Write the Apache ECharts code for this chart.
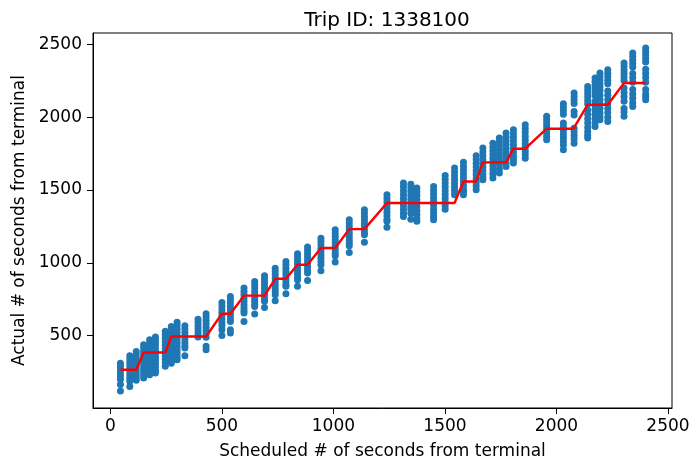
<!DOCTYPE html>
<html>
<head>
<meta charset="utf-8">
<script src="https://cdn.jsdelivr.net/npm/echarts@6/dist/echarts.min.js"></script>
<style>
html,body{margin:0;padding:0;background:#fff;}
#chart{width:690px;height:461px;}
</style>
</head>
<body>
<div id="chart"></div>
<script>
var titleText = "Trip ID: 1338100";
var xName = "Scheduled # of seconds from terminal";
var yName = "Actual # of seconds from terminal";
var xTicks = [0, 500, 1000, 1500, 2000, 2500];
var yTicks = [500, 1000, 1500, 2000, 2500];

// scheduled times (x) of each stop column
var columnX = [45, 87, 116, 149, 176, 202, 246, 273, 299, 334, 393, 429, 500, 538, 599, 647, 691, 739, 787,
  839, 884, 944, 1008, 1071, 1139, 1240, 1314, 1347, 1374, 1449, 1501, 1543, 1583, 1640, 1670, 1715, 1744,
  1774, 1807, 1860, 1956, 2031, 2079, 2140, 2173, 2195, 2230, 2303, 2342, 2400];
// observed actual times (y) for each column
var columnY = [
  [312,290,268,246,224,202,165,120],
  [363,340,318,296,274,252,230,208,187,152],
  [392,370,348,326,304,282,260,238,216,195],
  [438,415,392,369,346,323,300,277,254,232,210],
  [473,450,427,404,381,358,335,312,289,266,243,232],
  [491,468,445,422,399,376,353,330,307,284,261,244],
  [530,506,482,458,434,410,386,362,338,314,290],
  [564,540,516,492,468,444,420,396,372,348,325,312],
  [592,568,544,520,496,472,448,424,400,376,352,335],
  [569,546,523,500,477,454,431,415,363],
  [614,592,570,548,526,504,491],
  [651,628,605,582,559,536,513,490,427,404],
  [729,706,683,660,637,614,591,568,541,502],
  [770,747,724,701,678,655,632,610,598,541,518],
  [827,804,781,758,735,712,690,672,656,598],
  [873,850,827,804,781,758,736,716,701,649],
  [912,889,866,843,820,797,774,751,736,694],
  [964,941,918,895,872,849,826,803,781,740],
  [1010,987,964,941,918,895,872,850,839,788],
  [1063,1040,1017,994,971,948,925,902,884,839],
  [1109,1086,1063,1040,1017,994,971,950,930,880],
  [1170,1147,1124,1101,1078,1055,1032,1010,987,946],
  [1228,1205,1182,1159,1136,1113,1090,1067,1049,1006],
  [1296,1273,1250,1227,1204,1181,1158,1136,1118,1072],
  [1365,1342,1319,1296,1273,1250,1227,1205,1193,1141],
  [1468,1444,1420,1396,1372,1348,1324,1300,1285,1244],
  [1548,1522,1496,1470,1444,1418,1392,1366,1340,1319],
  [1540,1514,1488,1462,1436,1410,1384,1365,1340,1300],
  [1514,1488,1462,1436,1410,1384,1358,1332,1308,1285],
  [1525,1499,1473,1447,1421,1395,1369,1343,1319,1296],
  [1600,1574,1548,1522,1496,1470,1444,1418,1392,1369],
  [1651,1625,1599,1573,1547,1521,1495,1468],
  [1690,1664,1638,1612,1586,1560,1534,1508,1488,1468],
  [1736,1710,1684,1658,1632,1606,1580,1554,1528,1502],
  [1788,1762,1736,1710,1684,1658,1632,1606,1585,1571],
  [1822,1796,1770,1744,1718,1692,1666,1640,1612,1582],
  [1857,1831,1805,1779,1753,1727,1701,1675,1645,1617],
  [1891,1865,1839,1813,1787,1761,1735,1709,1685,1662],
  [1914,1888,1862,1836,1810,1784,1758,1732,1708,1685],
  [1948,1922,1896,1870,1844,1818,1792,1766,1742,1719],
  [2006,1983,1960,1937,1914,1891,1868,1845],
  [2092,2068,2044,2020,1960,1935,1910,1885,1860,1835,1810,1777],
  [2166,2142,2118,2094,2040,2015,1925,1900,1875,1850,1822],
  [2211,2187,2163,2139,2115,2091,2050,2020,1990,1960,1930,1900,1877,1857],
  [2269,2245,2221,2197,2173,2149,2110,2080,2050,2020,1990,1960,1937],
  [2303,2279,2255,2231,2207,2183,2150,2120,2090,2060,2030,2005,1983],
  [2326,2302,2278,2254,2230,2180,2150,2120,2090,2060,2030,2000,1971],
  [2372,2348,2324,2300,2276,2252,2200,2170,2140,2110,2060,2035,2006],
  [2440,2416,2392,2368,2344,2300,2270,2240,2190,2160,2130,2100,2074],
  [2475,2451,2427,2403,2379,2330,2300,2270,2240,2190,2160,2140,2120]
];
// red reference line (scheduled -> expected actual)
var lineX = [45,116,149,246,273,429,500,538,599,691,739,787,839,884,944,1008,1071,1139,1240,1543,1583,1640,1670,1774,1807,1860,1956,2076,2140,2230,2303,2400];
var lineY = [267,267,385,385,495,495,651,651,775,775,891,891,987,987,1102,1102,1232,1232,1411,1411,1559,1559,1690,1690,1784,1784,1921,1921,2086,2086,2235,2235];

var scatterData = [];
columnX.forEach(function (x, i) {
  columnY[i].forEach(function (y) { scatterData.push([x, y]); });
});
var lineData = lineX.map(function (x, i) { return [x, lineY[i]]; });

var font = "DejaVu Sans";
var plain = function (v) { return String(v); };
var chart = echarts.init(document.getElementById('chart'), null, {renderer: 'canvas'});
chart.setOption({
  animation: false,
  backgroundColor: '#ffffff',
  title: {
    text: titleText, left: 382, top: 6, textAlign: 'center',
    textStyle: {fontFamily: font, fontSize: 20, fontWeight: 'normal', color: '#000'}
  },
  grid: {left: 93, right: 18, top: 33, bottom: 53, outerBoundsMode: 'none', containLabel: false,
    show: true, borderColor: '#000', borderWidth: 1, backgroundColor: 'transparent'},
  xAxis: {
    type: 'value', min: -78, max: 2518,
    name: xName, nameLocation: 'middle', nameGap: 35,
    nameTextStyle: {fontFamily: font, fontSize: 17, color: '#000'},
    axisLine: {show: true, onZero: false, lineStyle: {color: '#000', width: 1}},
    axisTick: {show: true, length: 6, lineStyle: {color: '#000', width: 1}, customValues: xTicks},
    axisLabel: {fontFamily: font, fontSize: 17, color: '#000', margin: 10, customValues: xTicks, formatter: plain},
    splitLine: {show: false}
  },
  yAxis: {
    type: 'value', min: 4, max: 2578,
    name: yName, nameLocation: 'middle', nameGap: 62,
    nameTextStyle: {fontFamily: font, fontSize: 17, color: '#000'},
    axisLine: {show: true, onZero: false, lineStyle: {color: '#000', width: 1}},
    axisTick: {show: true, length: 6, lineStyle: {color: '#000', width: 1}, customValues: yTicks},
    axisLabel: {fontFamily: font, fontSize: 17, color: '#000', margin: 11, customValues: yTicks, formatter: plain},
    splitLine: {show: false}
  },
  series: [
    {type: 'scatter', data: scatterData, symbolSize: 7, itemStyle: {color: '#1f77b4', opacity: 1}, z: 2},
    {type: 'line', data: lineData, showSymbol: false, symbol: 'none', lineStyle: {color: '#ff0000', width: 2.4}, itemStyle: {color: '#ff0000'}, z: 3}
  ]
});
</script>
</body>
</html>
